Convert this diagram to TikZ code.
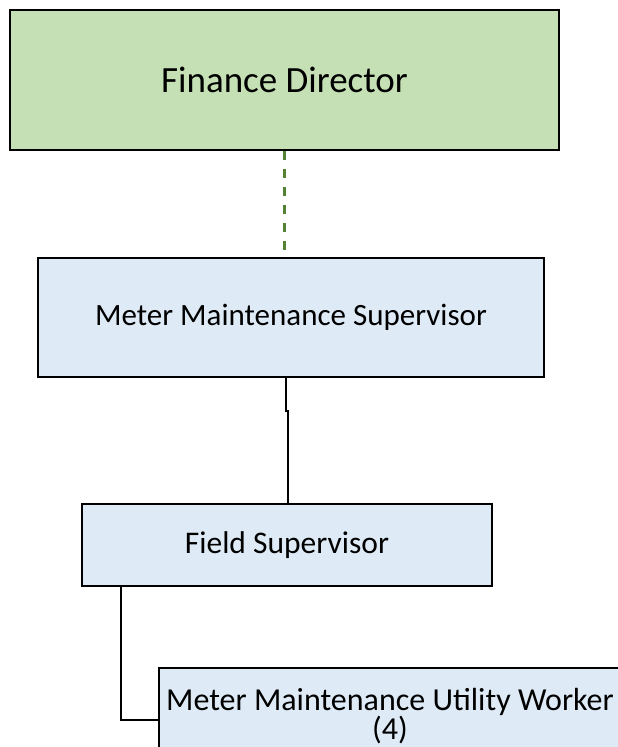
\documentclass[tikz,border=0pt]{standalone}
\usepackage{fontspec}
\setmainfont{Carlito}
\begin{document}
\begin{tikzpicture}[x=1pt,y=-1pt,
  box/.style={draw=black,line width=2.4pt,rectangle,inner sep=0pt,align=center,text=black},
  greenbox/.style={box,fill=fdgreen},
  bluebox/.style={box,fill=boxblue},
  link/.style={draw=black,line width=2pt},
  dottedlink/.style={draw=linkgreen,line width=2.2pt,dash pattern=on 9pt off 9pt}]
\definecolor{fdgreen}{HTML}{C5E0B4}
\definecolor{boxblue}{HTML}{DEEBF7}
\definecolor{linkgreen}{HTML}{548235}
\useasboundingbox (0,0) rectangle (618,747);
\begin{scope}
\clip (0,0) rectangle (618,747);
% organisation boxes
\node[greenbox,minimum width=549pt,minimum height=140pt,font=\fontsize{37}{44}\selectfont]
  (fd) at (284.5,80) {Finance Director};
\node[bluebox,minimum width=506pt,minimum height=119pt,font=\fontsize{31}{37}\selectfont]
  (mms) at (291,317.5) {Meter Maintenance Supervisor};
\node[bluebox,minimum width=410pt,minimum height=82pt,font=\fontsize{31.5}{37}\selectfont]
  (fs) at (287,545) {Field Supervisor};
\node[bluebox,minimum width=462pt,minimum height=96pt,font=\fontsize{32}{29}\selectfont]
  (uw) at (390,716) {Meter Maintenance Utility Worker\\(4)};
% reporting lines
\draw[dottedlink] (fd.south) -- (mms.north -| fd.south);
\draw[link] ([xshift=-5pt]mms.south) -- ++(0,33) -| ([xshift=1pt]fs.north);
\draw[link] ([xshift=40pt]fs.south west) |- ([yshift=-4pt]uw.west);
\end{scope}
\end{tikzpicture}
\end{document}
